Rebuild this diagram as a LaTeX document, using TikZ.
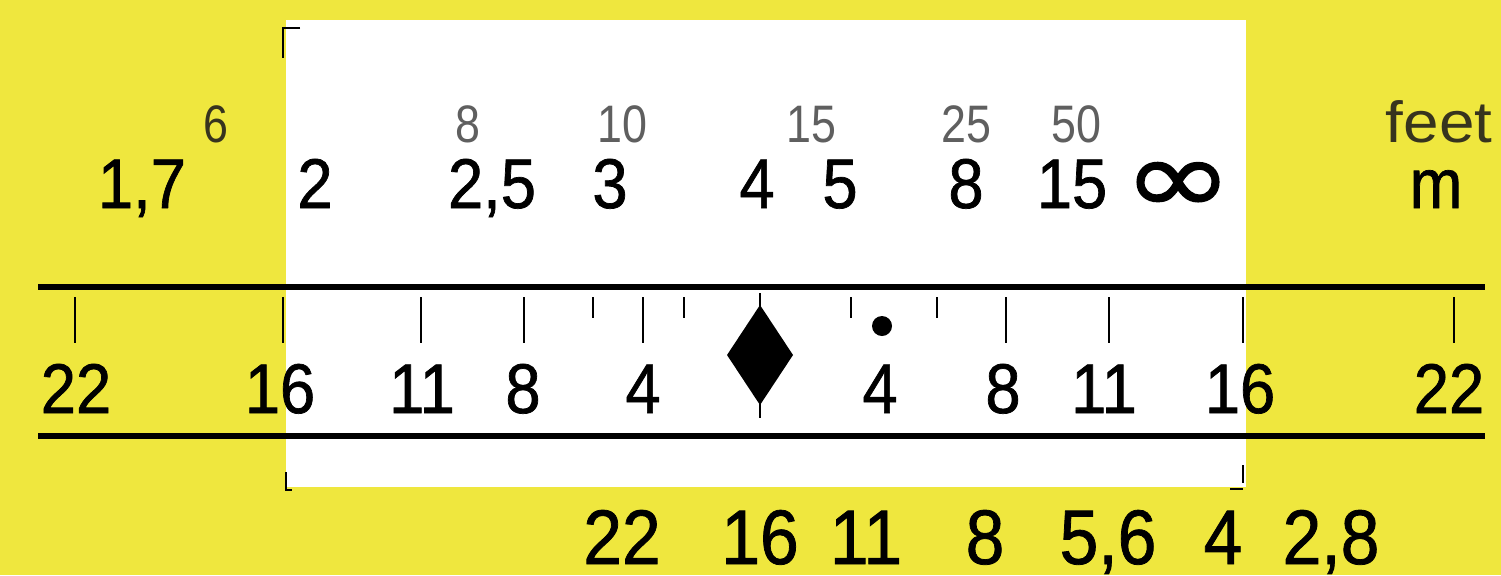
\documentclass[tikz,border=0pt]{standalone}
\usepackage{fontspec}
\setmainfont{Liberation Sans}
\newfontfamily\numfont{Liberation Sans}[FakeBold=1.0,FakeStretch=0.9]
\newfontfamily\feetnumfont{Liberation Sans}[FakeStretch=0.85]
\newfontfamily\feetfont{Liberation Sans}[FakeStretch=1.1]
\newfontfamily\inffont{DejaVu Sans}[FakeBold=1.2]
\definecolor{bgyellow}{RGB}{239,231,62}
\definecolor{feetgray}{RGB}{95,95,95}
\definecolor{feetdark}{RGB}{55,52,30}
\begin{document}
\begin{tikzpicture}[x=0.01cm,y=-0.01cm,
  mlbl/.style={anchor=base,inner sep=0pt,font=\numfont\fontsize{20}{22}\selectfont},
  flbl/.style={anchor=base,inner sep=0pt,text=feetgray,font=\feetnumfont\fontsize{15}{16}\selectfont},
  blbl/.style={anchor=base,inner sep=0pt,font=\numfont\fontsize{22}{24}\selectfont},
  inflbl/.style={inner sep=0pt,font=\inffont\fontsize{30}{32}\selectfont},
  rule/.style={line width=1.7pt},
  tick/.style={line width=0.6pt},
  stick/.style={line width=0.5pt},
  crop/.style={line width=0.6pt}]
% background and window
\fill[bgyellow] (0,0) rectangle (1501,575);
\useasboundingbox (0,0) rectangle (1501,575);
\fill[white] (286,20) rectangle (1246,487);
% crop marks
\draw[crop] (300,28) -- (283,28) -- (283,58);
\draw[crop] (286,472) -- (286,490) -- (292,490);
\draw[crop] (1243,465) -- (1243,483);
\draw[crop] (1230,489) -- (1243,489);
% rules
\draw[rule] (38,287) -- (1485,287);
\draw[rule] (38,436) -- (1485,436);
% long ticks
\foreach \x in {75,283,421,524,643,1006,1109,1243,1454}
  \draw[tick] (\x,297) -- (\x,343);
% short ticks
\foreach \x in {593,684,851,937}
  \draw[stick] (\x,297) -- (\x,318);
% index diamond
\draw[stick] (760,293) -- (760,306);
\draw[stick] (760,404) -- (760,418);
\fill (760,305) -- (793,355) -- (760,405) -- (727,355) -- cycle;
\fill (882,326) circle (0.1cm);
% feet row
\node[flbl,text=feetdark] (f6) at (216,142) {6};
\node[flbl] (f8) at (468,142) {8};
\node[flbl] (f10) at (622,142) {10};
\node[flbl] (f15) at (811,142) {15};
\node[flbl] (f25) at (966,142) {25};
\node[flbl] (f50) at (1076,142) {50};
\node[anchor=base east,inner sep=0pt,text=feetdark,font=\feetfont\fontsize{16.5}{18}\selectfont] (feet) at (1493,142) {feet};
% metre row
\node[mlbl] (m17) at (142,208) {1,7};
\node[mlbl] (m2) at (315,208) {2};
\node[mlbl] (m25) at (492,208) {2,5};
\node[mlbl] (m3) at (610,208) {3};
\node[mlbl] (m4) at (757,208) {4};
\node[mlbl] (m5) at (840,208) {5};
\node[mlbl] (m8) at (966,208) {8};
\node[mlbl] (m15) at (1072,208) {15};
\node[inflbl] (minf) at (1178,188) {\scalebox{1.25}[1]{∞}};
\node[mlbl] (mm) at (1436,208) {m};
% depth of field scale
\node[mlbl] (dl22) at (76,413) {22};
\node[mlbl] (dl16) at (280,413) {16};
\node[mlbl] (dl11) at (422,413) {11};
\node[mlbl] (dl8) at (523,413) {8};
\node[mlbl] (dl4) at (643,413) {4};
\node[mlbl] (dr4) at (880,413) {4};
\node[mlbl] (dr8) at (1003,413) {8};
\node[mlbl] (dr11) at (1104,413) {11};
\node[mlbl] (dr16) at (1240,413) {16};
\node[mlbl] (dr22) at (1449,413) {22};
% aperture row
\node[blbl] (a22) at (622,564) {22};
\node[blbl] (a16) at (760,564) {16};
\node[blbl] (a11) at (866,564) {11};
\node[blbl] (a8) at (985,564) {8};
\node[blbl] (a56) at (1108,564) {5,6};
\node[blbl] (a4) at (1223,564) {4};
\node[blbl] (a28) at (1331,564) {2,8};
\end{tikzpicture}
\end{document}
